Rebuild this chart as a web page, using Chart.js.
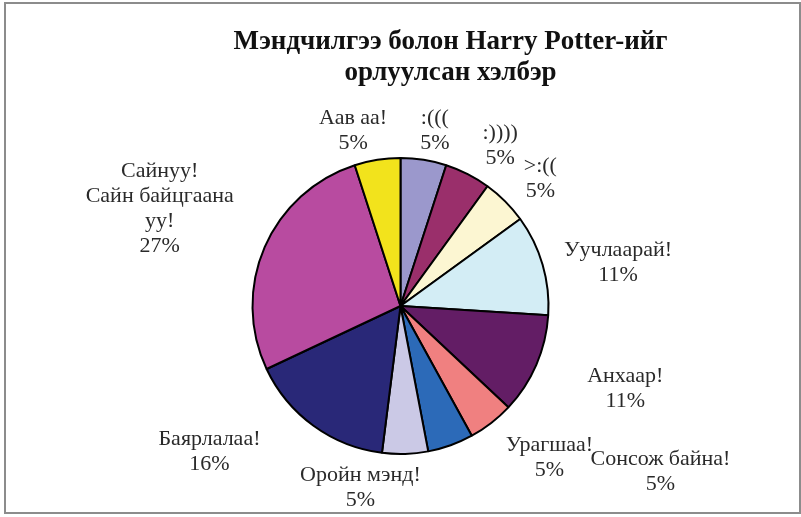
<!DOCTYPE html>
<html>
<head>
<meta charset="utf-8">
<script src="https://cdn.jsdelivr.net/npm/chart.js@4"></script>
<style>
    html, body { margin: 0; padding: 0; background: #fff; }
    #wrap { position: relative; width: 801px; height: 517px; }
    #frame {
        position: absolute; left: 4px; top: 2px; width: 793px; height: 508px;
        border: 2px solid #8c8c8c; pointer-events: none;
    }
</style>
</head>
<body>
<div id="wrap">
    <canvas id="pieChart" width="801" height="517"></canvas>
    <div id="frame"></div>
</div>
<script>
// ===== DATA =====
const categories = [
    ':(((', ':))))', '>:((', 'Уучлаарай!', 'Анхаар!', 'Сонсож байна!',
    'Урагшаа!', 'Оройн мэнд!', 'Баярлалаа!', 'Сайнуу! Сайн байцгаана уу!', 'Аав аа!'
];
const shares = [5, 5, 5, 11, 11, 5, 5, 5, 16, 27, 5];
const sliceColors = [
    '#9b98cc', '#9a2f6b', '#fcf6d2', '#d3edf5', '#631d65', '#f08080',
    '#2c6ab8', '#cbc9e6', '#292878', '#b84ba0', '#f2e31c'
];
// how each label is broken over lines (text only)
const labelLines = [
    [':((('], [':))))'], ['>:(('], ['Уучлаарай!'], ['Анхаар!'], ['Сонсож байна!'],
    ['Урагшаа!'], ['Оройн мэнд!'], ['Баярлалаа!'], ['Сайнуу!', 'Сайн байцгаана', 'уу!'], ['Аав аа!']
];
const titleLines = ['Мэндчилгээ болон Harry Potter-ийг', 'орлуулсан хэлбэр'];

// small nudges so labels sit where the original put them
const labelNudge = [
    [7, 7], [19, 5], [15, 4], [12, 8], [43, 9], [119, 20],
    [80, -22], [-47, -3], [-67, -4], [-26, -14], [-17, 7]
];

const serif = '"Liberation Serif", "Times New Roman", serif';

// title sits a bit right of the pie centre, as in the original
const chartTitle = {
    id: 'chartTitle',
    afterDraw(chart) {
        const ctx = chart.ctx;
        const x = (chart.chartArea.left + chart.chartArea.right) / 2 + 50;
        ctx.save();
        ctx.font = 'bold 27px ' + serif;
        ctx.fillStyle = '#111';
        ctx.textAlign = 'center';
        ctx.textBaseline = 'alphabetic';
        titleLines.forEach((line, k) => ctx.fillText(line, x, 49 + k * 31));
        ctx.restore();
    }
};

// draws "name / xx%" outside each slice
const outsideLabels = {
    id: 'outsideLabels',
    afterDatasetsDraw(chart) {
        const ctx = chart.ctx;
        const meta = chart.getDatasetMeta(0);
        const lineH = 25;
        ctx.save();
        ctx.font = '22px ' + serif;
        ctx.fillStyle = '#2a2a2a';
        ctx.textAlign = 'center';
        ctx.textBaseline = 'middle';

        meta.data.forEach((arc, i) => {
            const mid = (arc.startAngle + arc.endAngle) / 2;
            const ux = Math.cos(mid);
            const uy = Math.sin(mid);
            const lines = labelLines[i].concat([shares[i] + '%']);
            const w = Math.max(...lines.map(l => ctx.measureText(l).width));
            const h = lines.length * lineH;
            const r = arc.outerRadius + 12;
            const cx = arc.x + r * ux + ux * w / 2 + labelNudge[i][0];
            const cy = arc.y + r * uy + uy * h / 2 + labelNudge[i][1];
            lines.forEach((line, k) => {
                ctx.fillText(line, cx, cy - h / 2 + lineH * (k + 0.5));
            });
        });
        ctx.restore();
    }
};

new Chart(document.getElementById('pieChart'), {
    type: 'pie',
    data: {
        labels: categories,
        datasets: [{
            data: shares,
            backgroundColor: sliceColors,
            borderColor: '#000',
            borderWidth: 2,
            hoverOffset: 0
        }]
    },
    options: {
        responsive: false,
        animation: false,
        layout: { padding: { top: 157, bottom: 62, left: 0, right: 0 } },
        plugins: {
            legend: { display: false },
            tooltip: { enabled: false },
            title: { display: false }
        }
    },
    plugins: [outsideLabels, chartTitle]
});
</script>
</body>
</html>
